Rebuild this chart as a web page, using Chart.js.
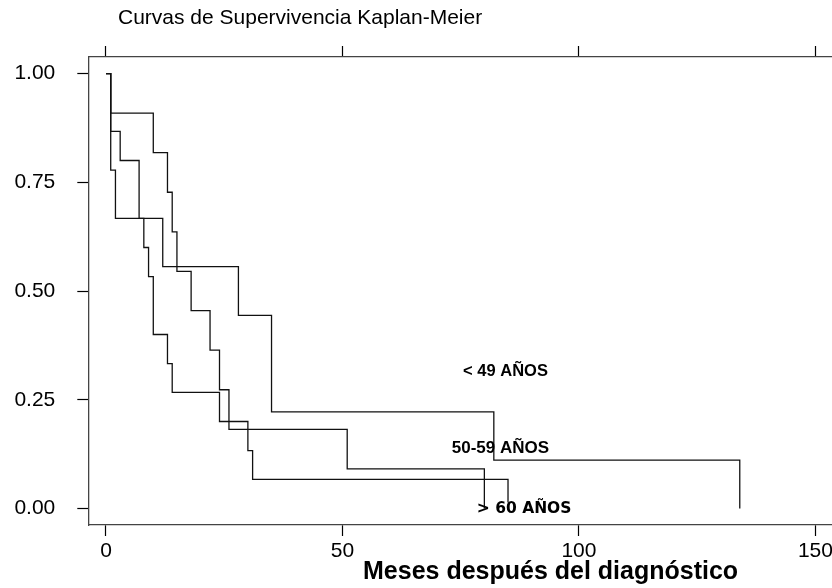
<!DOCTYPE html>
<html>
<head>
<meta charset="utf-8">
<script src="https://cdn.jsdelivr.net/npm/chart.js@4.4.1/dist/chart.umd.min.js"></script>
<style>
html,body{margin:0;padding:0;background:#fff;overflow:hidden;}
canvas{display:block;}
</style>
</head>
<body>
<canvas id="c" width="832" height="588"></canvas>
<script>
// ---- data ----
const groupNames = ["< 49 AÑOS", "50-59 AÑOS", "> 60 AÑOS"];
// Kaplan-Meier step curves (time in months, survival)
const timesA = [0, 1, 10, 13, 14, 15, 18, 22, 24, 26, 51, 80];
const survA  = [1, 0.909, 0.818, 0.727, 0.636, 0.545, 0.455, 0.364, 0.273, 0.182, 0.091, 0];
const timesB = [0, 1, 3, 7, 8, 9, 10, 13, 14, 24, 30, 31, 85];
const survB  = [1, 0.867, 0.8, 0.667, 0.6, 0.533, 0.4, 0.333, 0.267, 0.2, 0.133, 0.067, 0];
const timesC = [0, 1, 2, 12, 28, 35, 82, 134];
const survC  = [1, 0.778, 0.667, 0.556, 0.444, 0.222, 0.111, 0];
const xTicks = [0, 50, 100, 150];
const yTicks = [0, 0.25, 0.5, 0.75, 1];
const yTickLabels = ["0.00", "0.25", "0.50", "0.75", "1.00"];
const titleText = "Curvas de Supervivencia Kaplan-Meier";
const xTitleText = "Meses después del diagnóstico";

const toPts = (t, s) => t.map((v, i) => ({x: v, y: s[i]}));

const mkDs = (t, s) => ({
  data: toPts(t, s),
  showLine: true,
  stepped: true,
  borderColor: '#111',
  borderWidth: 1.3,
  pointRadius: 0,
  fill: false
});

const textPlugin = {
  id: 'texts',
  afterDraw(chart) {
    const ctx = chart.ctx;
    const xs = chart.scales.x, ys = chart.scales.y;
    ctx.save();
    ctx.fillStyle = '#000';
    ctx.textBaseline = 'alphabetic';
    ctx.textAlign = 'left';
    ctx.font = '21px "Liberation Sans", Arial, sans-serif';
    ctx.fillText(titleText, 118, 24);
    ctx.font = 'bold 25px "Liberation Sans", Arial, sans-serif';
    ctx.fillText(xTitleText, 363, 579);
    // group labels, anchored in data coordinates
    const lab = [
      {t: 75.5, s: 0.314, font: 'bold 16.5px "Liberation Sans", Arial, sans-serif'},
      {t: 73.1, s: 0.138, font: 'bold 17px "Liberation Sans", Arial, sans-serif'},
      {t: 78.4, s: 0.0,   font: 'bold 15.5px "DejaVu Sans", sans-serif'}
    ];
    ctx.textBaseline = 'middle';
    lab.forEach((l, i) => {
      ctx.font = l.font;
      const px = xs.getPixelForValue(l.t), py = ys.getPixelForValue(l.s);
      const w = ctx.measureText(groupNames[i]).width;
      if (i === 2) {
        ctx.fillStyle = '#fff';
        ctx.fillRect(px + 9, py - 6, w - 9, 12);
        ctx.fillStyle = '#000';
      }
      ctx.fillText(groupNames[i], px, py);
    });
    ctx.restore();
  }
};

const gridCommon = {
  display: true,
  drawOnChartArea: false,
  drawTicks: true,
  tickLength: 11,
  tickColor: '#000',
  tickWidth: 1.2
};
const borderCommon = {display: true, color: '#444', width: 1.3};

new Chart(document.getElementById('c'), {
  type: 'scatter',
  data: { datasets: [mkDs(timesA, survA), mkDs(timesB, survB), mkDs(timesC, survC)] },
  options: {
    responsive: false,
    animation: false,
    devicePixelRatio: 1,
    layout: {padding: 0},
    plugins: {legend: {display: false}, tooltip: {enabled: false}, title: {display: false}},
    scales: {
      x: {
        type: 'linear', position: 'bottom',
        min: -3.74, max: 153.5,
        afterBuildTicks: s => { s.ticks = xTicks.map(v => ({value: v})); },
        afterFit: s => { s.height = 63; s.paddingLeft = 0; s.paddingRight = 0; },
        ticks: {
          color: '#000', padding: 3,
          font: {family: '"Liberation Sans", Arial, sans-serif', size: 21},
          maxRotation: 0, autoSkip: false,
          callback: v => String(v)
        },
        grid: gridCommon,
        border: borderCommon
      },
      x2: {
        type: 'linear', position: 'top',
        min: -3.74, max: 153.5,
        afterBuildTicks: s => { s.ticks = xTicks.map(v => ({value: v})); },
        afterFit: s => { s.height = 57; s.paddingLeft = 0; s.paddingRight = 0; },
        ticks: { callback: () => '', padding: 0, autoSkip: false },
        grid: gridCommon,
        border: borderCommon
      },
      y: {
        type: 'linear', position: 'left',
        min: -0.038, max: 1.038,
        afterBuildTicks: s => { s.ticks = yTicks.map(v => ({value: v})); },
        afterFit: s => { s.width = 88.3; },
        ticks: {
          color: '#000', padding: 22,
          font: {family: '"Liberation Sans", Arial, sans-serif', size: 21},
          autoSkip: false,
          callback: (v) => yTickLabels[yTicks.indexOf(v)]
        },
        grid: gridCommon,
        border: borderCommon
      }
    }
  },
  plugins: [textPlugin]
});
</script>
</body>
</html>
